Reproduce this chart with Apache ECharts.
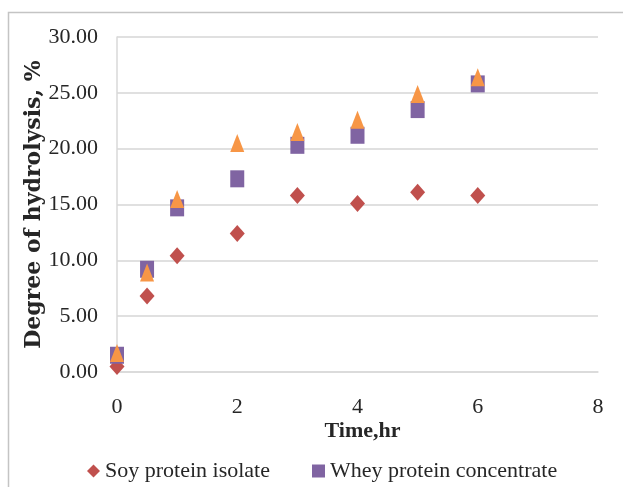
<!DOCTYPE html>
<html>
<head>
<meta charset="utf-8">
<script src="https://cdn.jsdelivr.net/npm/echarts@6/dist/echarts.min.js"></script>
<style>
  html, body { margin: 0; padding: 0; background: #ffffff; }
  #chart { width: 623px; height: 487px; }
</style>
</head>
<body>
<div id="chart"></div>
<script>
// Hydrolysis time points (hours)
const timeHr = [0, 0.5, 1, 2, 3, 4, 5, 6];
// Degree of hydrolysis (%) for each protein source
const soyProteinIsolate = [0.5, 6.8, 10.4, 12.4, 15.8, 15.1, 16.1, 15.8];
const wheyProteinConcentrate = [1.5, 9.2, 14.7, 17.3, 20.3, 21.2, 23.5, 25.8];
const series3 = [1.7, 8.9, 15.5, 20.5, 21.5, 22.6, 24.9, 26.4];
const seriesNames = ['Soy protein isolate', 'Whey protein concentrate', 'Series 3'];

const toPoints = (ys) => timeHr.map((t, i) => [t, ys[i]]);

const serif = '"Liberation Serif", "DejaVu Serif", serif';
const textColor = '#262626';

const chart = echarts.init(document.getElementById('chart'), null, { renderer: 'canvas' });

chart.setOption({
  animation: false,
  backgroundColor: '#ffffff',
  graphic: [{
    type: 'rect',
    shape: { x: 8.5, y: 12.5, width: 1000, height: 1000 },
    style: { fill: 'none', stroke: '#c4c4c4', lineWidth: 1.5 },
    z: -1
  }],
  grid: { left: 117, right: 25, top: 37, bottom: 115, containLabel: false },
  xAxis: {
    type: 'value',
    min: 0, max: 8, interval: 2,
    name: 'Time,hr',
    nameLocation: 'middle',
    nameGap: 48,
    nameMoveOverlap: false,
    nameTextStyle: { fontFamily: serif, fontWeight: 'bold', fontSize: 22, color: textColor, padding: [0, 0, 0, 10] },
    axisLine: { show: true, lineStyle: { color: '#d9d9d9', width: 1.5 } },
    axisTick: { show: false },
    axisLabel: { fontFamily: serif, fontSize: 22, color: textColor, margin: 24 },
    splitLine: { show: false }
  },
  yAxis: {
    type: 'value',
    min: 0, max: 30, interval: 5,
    name: 'Degree of hydrolysis, %',
    nameLocation: 'middle',
    nameGap: 72,
    nameMoveOverlap: false,
    nameTextStyle: { fontFamily: '"DejaVu Serif", serif', fontWeight: 'bold', fontSize: 22, color: textColor },
    axisLine: { show: true, lineStyle: { color: '#d9d9d9', width: 1.5 } },
    axisTick: { show: false },
    axisLabel: {
      fontFamily: serif, fontSize: 22, color: textColor, margin: 19,
      formatter: (v) => v.toFixed(2)
    },
    splitLine: { show: true, lineStyle: { color: '#e0e0e0', width: 2 } }
  },
  legend: {
    data: [seriesNames[0], seriesNames[1]],
    left: 82,
    top: 455,
    itemWidth: 13,
    itemHeight: 13,
    itemGap: 42,
    textStyle: { fontFamily: serif, fontSize: 22, color: textColor }
  },
  series: [
    {
      name: seriesNames[0],
      type: 'scatter',
      symbol: 'diamond',
      symbolSize: [15, 17],
      itemStyle: { color: '#C0504D', opacity: 1 },
      data: toPoints(soyProteinIsolate),
      z: 2
    },
    {
      name: seriesNames[1],
      type: 'scatter',
      symbol: 'rect',
      symbolSize: [14, 17],
      itemStyle: { color: '#8064A2', opacity: 1 },
      data: toPoints(wheyProteinConcentrate),
      z: 3
    },
    {
      name: seriesNames[2],
      type: 'scatter',
      symbol: 'triangle',
      symbolSize: [14, 18],
      itemStyle: { color: '#F79646', opacity: 1 },
      data: toPoints(series3),
      z: 4
    }
  ]
});
</script>
</body>
</html>
